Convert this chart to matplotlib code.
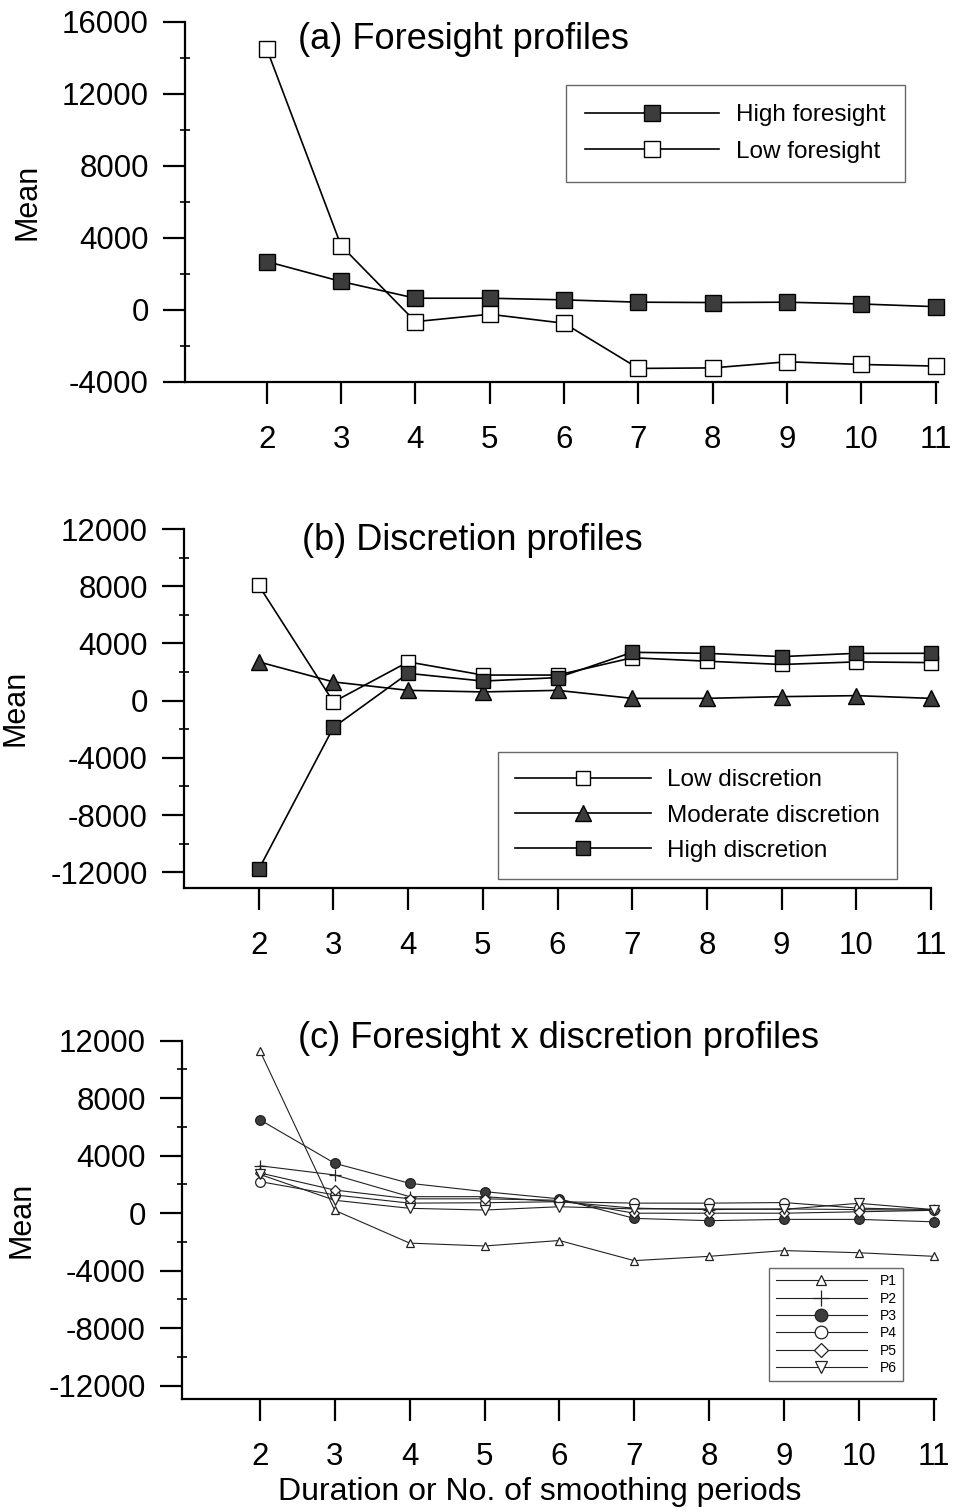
import matplotlib.pyplot as plt
from matplotlib.ticker import MultipleLocator

plt.rcParams['font.family'] = ['Liberation Sans', 'DejaVu Sans']
plt.rcParams['axes.unicode_minus'] = False

periods = [2, 3, 4, 5, 6, 7, 8, 9, 10, 11]

# (a) foresight
high_fore = [2690, 1580, 650, 650, 560, 430, 410, 430, 330, 180]
low_fore = [14500, 3570, -650, -240, -740, -3250, -3220, -2880, -3030, -3120]

# (b) discretion
low_disc = [8060, -90, 2710, 1790, 1790, 3000, 2760, 2530, 2710, 2660]
mod_disc = [2710, 1310, 720, 610, 720, 160, 160, 280, 350, 160]
high_disc = [-11800, -1870, 1910, 1370, 1610, 3380, 3310, 3080, 3310, 3310]

# (c) foresight x discretion
p1 = [11300, 200, -2080, -2280, -1900, -3300, -3000, -2600, -2750, -3000]
p2 = [3300, 2660, 1150, 1150, 800, 350, 250, 300, 250, 200]
p3 = [6500, 3470, 2080, 1500, 1000, -360, -520, -430, -430, -600]
p4 = [2200, 1270, 700, 730, 800, 700, 700, 740, 350, 250]
p5 = [2800, 1610, 1000, 1000, 900, 0, 0, 0, 100, 200]
p6 = [2700, 900, 340, 220, 450, 300, 300, 270, 690, 250]

fig = plt.figure(figsize=(9.56, 15.12), dpi=100)

ax_a = fig.add_axes([0.1935, 0.7474, 0.7877, 0.2381])
ax_b = fig.add_axes([0.1925, 0.4129, 0.7814, 0.2372])
ax_c = fig.add_axes([0.1904, 0.0745, 0.7887, 0.2372])

FILL = '#3c3c3c'


def style_axes(ax, ylim, xlim, yticks):
    ax.set_xlim(*xlim)
    ax.set_ylim(*ylim)
    ax.spines['top'].set_visible(False)
    ax.spines['right'].set_visible(False)
    ax.spines['left'].set_linewidth(1.6)
    ax.spines['bottom'].set_linewidth(1.6)
    ax.set_xticks(periods)
    ax.set_yticks(yticks)
    ax.yaxis.set_minor_locator(MultipleLocator(2000))
    ax.tick_params(axis='x', direction='out', length=16, width=1.6,
                   pad=15, labelsize=22.5)
    ax.tick_params(axis='y', which='major', direction='out', length=16,
                   width=1.6, pad=10, labelsize=22.5)
    ax.tick_params(axis='y', which='minor', direction='inout', length=7,
                   width=1.2)


# ---- (a)
ax_a.plot(periods, high_fore, '-s', color='black', lw=1.2, ms=11,
          mfc=FILL, mec='black', mew=1.0, label='High foresight', clip_on=False)
ax_a.plot(periods, low_fore, '-s', color='black', lw=1.2, ms=11,
          mfc='white', mec='black', mew=1.0, label='Low foresight', clip_on=False)
style_axes(ax_a, (-4000, 16000), (0.9, 11.03), range(-4000, 16001, 4000))
ax_a.text(0.150, 0.95, '(a) Foresight profiles', transform=ax_a.transAxes,
          fontsize=26, ha='left', va='center')
leg = ax_a.legend(loc='upper left', bbox_to_anchor=(0.506, 0.825),
                  borderaxespad=0, fontsize=17.5, handlelength=5.5,
                  handletextpad=0.7, borderpad=0.8, labelspacing=0.6,
                  fancybox=False, edgecolor='#444444')
leg.get_frame().set_linewidth(1.0)

# ---- (b)
ax_b.plot(periods, low_disc, '-s', color='black', lw=1.2, ms=10,
          mfc='white', mec='black', mew=1.0, label='Low discretion', clip_on=False)
ax_b.plot(periods, mod_disc, '-^', color='black', lw=1.2, ms=11,
          mfc=FILL, mec='black', mew=1.0, label='Moderate discretion', clip_on=False)
ax_b.plot(periods, high_disc, '-s', color='black', lw=1.2, ms=10,
          mfc=FILL, mec='black', mew=1.0, label='High discretion', clip_on=False)
style_axes(ax_b, (-13080, 12000), (1.0, 11.0), range(-12000, 12001, 4000))
ax_b.text(0.158, 0.967, '(b) Discretion profiles', transform=ax_b.transAxes,
          fontsize=26, ha='left', va='center')
leg = ax_b.legend(loc='upper left', bbox_to_anchor=(0.42, 0.378),
                  borderaxespad=0, fontsize=17.5, handlelength=5.6,
                  handletextpad=0.65, borderpad=0.7, labelspacing=0.55,
                  fancybox=False, edgecolor='#444444')
leg.get_frame().set_linewidth(1.0)

# ---- (c)
series_c = [
    (p1, '^', 'white', 6, 'P1'),
    (p2, '+', 'none', 9, 'P2'),
    (p3, 'o', FILL, 7, 'P3'),
    (p4, 'o', 'white', 7, 'P4'),
    (p5, 'D', 'white', 5.5, 'P5'),
    (p6, 'v', 'white', 7, 'P6'),
]
for vals, mk, fc, ms, lab in series_c:
    ax_c.plot(periods, vals, '-', marker=mk, color='#222222', lw=0.8, ms=ms,
              mfc=fc, mec='#222222', mew=0.9, label=lab, clip_on=False)
style_axes(ax_c, (-12950, 12000), (0.96, 11.03), range(-12000, 12001, 4000))
ax_c.text(0.154, 1.007, '(c) Foresight x discretion profiles',
          transform=ax_c.transAxes, fontsize=26, ha='left', va='center')
leg = ax_c.legend(loc='upper left', bbox_to_anchor=(0.779, 0.366),
                  borderaxespad=0, fontsize=10, handlelength=6.6,
                  handletextpad=0.9, borderpad=0.45, labelspacing=0.24,
                  markerscale=1.3, fancybox=False, edgecolor='#444444')
leg.get_frame().set_linewidth(1.0)

# y labels and shared x label
for ax, xc in [(ax_a, 28), (ax_b, 15), (ax_c, 22)]:
    pos = ax.get_position()
    fig.text(xc / 956, pos.y0 + pos.height / 2, 'Mean', rotation=90,
             ha='center', va='center', fontsize=22)

fig.text(540 / 956, 1 - 1492 / 1512, 'Duration or No. of smoothing periods',
         ha='center', va='center', fontsize=23)

fig.savefig('out.png', dpi=100)
